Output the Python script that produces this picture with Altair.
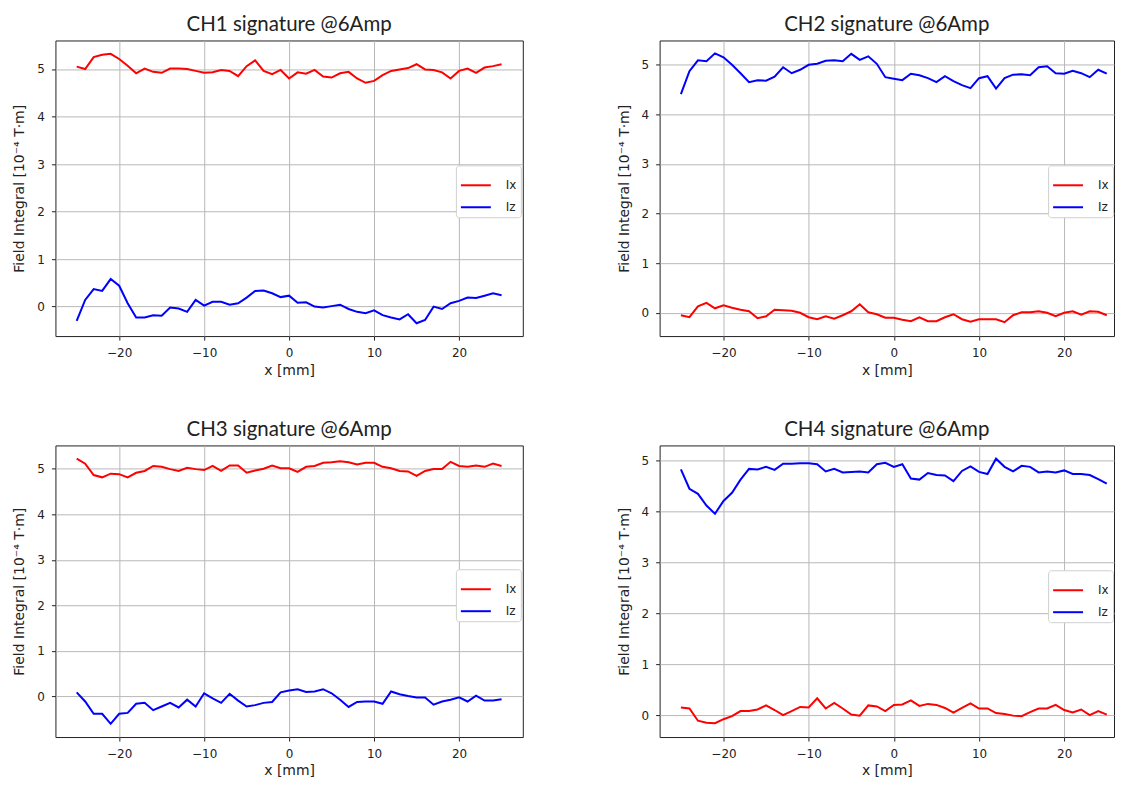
import altair as alt
import pandas as pd

x_mm = list(range(-25, 26))

ch1_ix = [5.05, 5.0, 5.25, 5.3, 5.32, 5.21, 5.07, 4.91, 5.01, 4.94, 4.92, 5.01, 5.01, 5.0, 4.96,
          4.92, 4.93, 4.98, 4.96, 4.85, 5.06, 5.18, 4.96, 4.89, 4.98, 4.8, 4.93, 4.9, 4.98, 4.84,
          4.82, 4.91, 4.94, 4.8, 4.71, 4.75, 4.87, 4.96, 4.99, 5.02, 5.1, 4.99, 4.98, 4.93, 4.8,
          4.96, 5.01, 4.92, 5.03, 5.06, 5.1]
ch1_iz = [-0.3, 0.14, 0.37, 0.33, 0.58, 0.44, 0.07, -0.23, -0.23, -0.18, -0.19, -0.02, -0.04, -0.11, 0.14,
          0.02, 0.1, 0.1, 0.04, 0.07, 0.19, 0.33, 0.34, 0.28, 0.2, 0.23, 0.08, 0.09, 0.0, -0.02,
          0.01, 0.04, -0.05, -0.11, -0.14, -0.08, -0.18, -0.23, -0.27, -0.16, -0.35, -0.28, 0.0, -0.05, 0.07,
          0.12, 0.19, 0.18, 0.23, 0.28, 0.24]

ch2_ix = [-0.05, -0.09, 0.13, 0.2, 0.09, 0.15, 0.1, 0.06, 0.03, -0.11, -0.07, 0.06, 0.05, 0.04, 0.0,
          -0.09, -0.13, -0.07, -0.12, -0.05, 0.03, 0.17, 0.01, -0.03, -0.1, -0.1, -0.14, -0.17, -0.09, -0.17,
          -0.17, -0.09, -0.03, -0.13, -0.18, -0.13, -0.13, -0.13, -0.19, -0.05, 0.01, 0.01, 0.03, 0.0, -0.07,
          0.0, 0.03, -0.04, 0.03, 0.02, -0.05]
ch2_iz = [4.41, 4.87, 5.09, 5.07, 5.23, 5.15, 5.0, 4.83, 4.65, 4.69, 4.68, 4.76, 4.95, 4.83, 4.9,
          5.0, 5.02, 5.08, 5.09, 5.07, 5.22, 5.1, 5.17, 5.02, 4.75, 4.72, 4.69, 4.82, 4.79, 4.73,
          4.65, 4.77, 4.67, 4.59, 4.53, 4.73, 4.77, 4.52, 4.73, 4.8, 4.81, 4.79, 4.95, 4.97, 4.83,
          4.82, 4.88, 4.83, 4.75, 4.9, 4.82]

ch3_ix = [5.22, 5.11, 4.86, 4.81, 4.89, 4.88, 4.81, 4.91, 4.95, 5.06, 5.04, 4.99, 4.95, 5.02, 4.99,
          4.97, 5.06, 4.95, 5.07, 5.07, 4.91, 4.96, 5.0, 5.07, 5.01, 5.01, 4.93, 5.04, 5.06, 5.13,
          5.14, 5.16, 5.14, 5.09, 5.13, 5.13, 5.04, 5.01, 4.95, 4.94, 4.84, 4.95, 4.99, 4.99, 5.15,
          5.06, 5.04, 5.07, 5.04, 5.11, 5.06]
ch3_iz = [0.09, -0.11, -0.38, -0.38, -0.6, -0.38, -0.36, -0.16, -0.14, -0.3, -0.22, -0.14, -0.24, -0.07, -0.22,
          0.07, -0.04, -0.14, 0.06, -0.09, -0.22, -0.19, -0.14, -0.12, 0.09, 0.13, 0.16, 0.1, 0.11, 0.16,
          0.07, -0.07, -0.23, -0.12, -0.11, -0.11, -0.16, 0.11, 0.05, 0.01, -0.02, -0.02, -0.18, -0.11, -0.07,
          -0.02, -0.11, 0.02, -0.09, -0.09, -0.06]

ch4_ix = [0.15, 0.13, -0.11, -0.15, -0.16, -0.08, -0.02, 0.08, 0.08, 0.11, 0.19, 0.1, 0.0, 0.08, 0.16,
          0.15, 0.33, 0.13, 0.24, 0.13, 0.01, -0.01, 0.19, 0.17, 0.08, 0.2, 0.21, 0.29, 0.18, 0.22,
          0.2, 0.14, 0.05, 0.14, 0.23, 0.13, 0.13, 0.04, 0.02, -0.01, -0.02, 0.06, 0.13, 0.13, 0.2,
          0.1, 0.05, 0.11, 0.0, 0.08, 0.01]
ch4_iz = [4.82, 4.44, 4.34, 4.11, 3.95, 4.2, 4.36, 4.62, 4.83, 4.82, 4.87, 4.81, 4.93, 4.93, 4.94,
          4.94, 4.92, 4.78, 4.83, 4.76, 4.77, 4.78, 4.76, 4.92, 4.95, 4.87, 4.92, 4.64, 4.62, 4.75,
          4.71, 4.7, 4.59, 4.79, 4.88, 4.77, 4.73, 5.03, 4.87, 4.78, 4.89, 4.87, 4.76, 4.78, 4.76,
          4.8, 4.73, 4.73, 4.71, 4.63, 4.54]

titles = ["CH1 signature @6Amp", "CH2 signature @6Amp", "CH3 signature @6Amp", "CH4 signature @6Amp"]
series_names = ["Ix", "Iz"]
series_colors = ["#ff0000", "#0000ff"]
x_ticks = [-20, -10, 0, 10, 20]
y_ticks = [0, 1, 2, 3, 4, 5]
y_domains = [[-0.62, 5.6], [-0.47, 5.49], [-0.89, 5.51], [-0.43, 5.29]]
# left panels show the full x range; the right panels are cut at the page edge as in the picture
x_domain_left = [-27.5, 27.5]
x_domain_right = [-27.5, 25.85]

TITLE_FONT = "Lato"
AXIS_FONT = "DejaVu Sans"


def panel(title, ix, iz, ydom, xdom, width, height, legend_x, legend_y):
    df = pd.DataFrame({
        "x": x_mm + x_mm,
        "v": ix + iz,
        "s": [series_names[0]] * len(x_mm) + [series_names[1]] * len(x_mm),
    })
    return alt.Chart(df, title=alt.TitleParams(title)).mark_line(strokeWidth=2).encode(
        x=alt.X("x:Q", scale=alt.Scale(domain=xdom, nice=False, zero=False),
                axis=alt.Axis(values=x_ticks, title="x [mm]")),
        y=alt.Y("v:Q", scale=alt.Scale(domain=ydom, nice=False, zero=False),
                axis=alt.Axis(values=y_ticks, title="Field Integral [10⁻⁴ T·m]")),
        color=alt.Color("s:N", scale=alt.Scale(domain=series_names, range=series_colors),
                        legend=alt.Legend(title=None, orient="none", legendX=legend_x, legendY=legend_y)),
    ).properties(width=width, height=height)


p1 = panel(titles[0], ch1_ix, ch1_iz, y_domains[0], x_domain_left, 468, 296, 401, 125)
p2 = panel(titles[1], ch2_ix, ch2_iz, y_domains[1], x_domain_right, 455, 296, 389, 125)
p3 = panel(titles[2], ch3_ix, ch3_iz, y_domains[2], x_domain_left, 468, 292, 401, 124)
p4 = panel(titles[3], ch4_ix, ch4_iz, y_domains[3], x_domain_right, 455, 292, 389, 125)

row1 = alt.hconcat(p1, p2, spacing=92).resolve_scale(color="independent", x="independent", y="independent")
row2 = alt.hconcat(p3, p4, spacing=92).resolve_scale(color="independent", x="independent", y="independent")

chart = alt.vconcat(row1, row2, spacing=41.5).resolve_scale(
    color="independent", x="independent", y="independent"
).properties(
    padding={"left": 3.5, "top": 6, "right": 0, "bottom": 0}
).configure_view(
    stroke="#222222", strokeWidth=1
).configure_axis(
    domain=False,
    grid=True, gridColor="#b8b8b8", gridWidth=1,
    tickColor="#222222", tickSize=4, tickWidth=1,
    labelFont=AXIS_FONT, labelFontSize=12, labelColor="#222222", labelPadding=7,
    titleFont=AXIS_FONT, titleFontSize=14, titleFontWeight="normal", titleColor="#222222",
).configure_axisX(
    titlePadding=5
).configure_axisY(
    titlePadding=10
).configure_title(
    font=TITLE_FONT, fontSize=20.5, fontWeight="normal", color="#222222", offset=5
).configure_legend(
    symbolType="stroke", symbolStrokeWidth=2, symbolSize=900,
    labelFont=AXIS_FONT, labelFontSize=12, labelColor="#222222", labelOffset=14,
    rowPadding=-5,
    strokeColor="#d0d0d0", fillColor="white", padding=4, cornerRadius=3,
)

chart.save("out.html", embed_options={"renderer": "svg", "actions": False})
